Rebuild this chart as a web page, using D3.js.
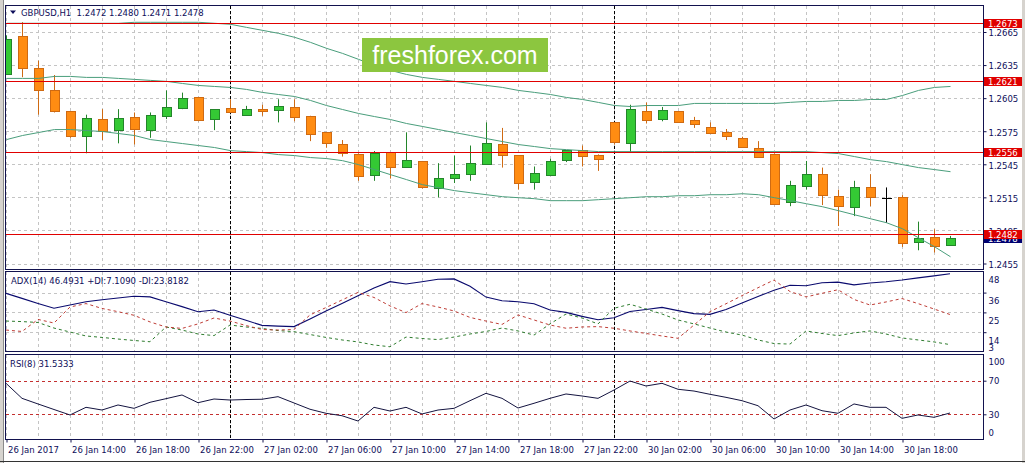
<!DOCTYPE html>
<html><head><meta charset="utf-8">
<script src="https://cdn.jsdelivr.net/npm/d3@7"></script>
<style>
html,body{margin:0;padding:0;background:#fff;overflow:hidden;}
svg{display:block;}
text{font-family:"DejaVu Sans",sans-serif;}
</style></head><body>
<svg id="c" width="1025" height="463"></svg>
<script>
// ---------- DATA ----------
const symbolTitle = "GBPUSD,H1  1.2472 1.2480 1.2471 1.2478";
const adxTitle = "ADX(14) 46.4931 +DI:7.1090 -DI:23.8182";
const rsiTitle = "RSI(8) 31.5333";

const times = [
"26 Jan 10:00","26 Jan 11:00","26 Jan 12:00","26 Jan 13:00","26 Jan 14:00","26 Jan 15:00","26 Jan 16:00","26 Jan 17:00","26 Jan 18:00","26 Jan 19:00",
"26 Jan 20:00","26 Jan 21:00","26 Jan 22:00","26 Jan 23:00","27 Jan 00:00","27 Jan 01:00","27 Jan 02:00","27 Jan 03:00","27 Jan 04:00","27 Jan 05:00",
"27 Jan 06:00","27 Jan 07:00","27 Jan 08:00","27 Jan 09:00","27 Jan 10:00","27 Jan 11:00","27 Jan 12:00","27 Jan 13:00","27 Jan 14:00","27 Jan 15:00",
"27 Jan 16:00","27 Jan 17:00","27 Jan 18:00","27 Jan 19:00","27 Jan 20:00","27 Jan 21:00","27 Jan 22:00","27 Jan 23:00","30 Jan 00:00","30 Jan 01:00",
"30 Jan 02:00","30 Jan 03:00","30 Jan 04:00","30 Jan 05:00","30 Jan 06:00","30 Jan 07:00","30 Jan 08:00","30 Jan 09:00","30 Jan 10:00","30 Jan 11:00",
"30 Jan 12:00","30 Jan 13:00","30 Jan 14:00","30 Jan 15:00","30 Jan 16:00","30 Jan 17:00","30 Jan 18:00","30 Jan 19:00","30 Jan 20:00","30 Jan 21:00"];

const open = [1.2627,1.2661,1.2632,1.2612,1.2593,1.2571,1.2586,1.2576,1.2588,1.2576,
1.2589,1.2596,1.2606,1.2586,1.2596,1.2590,1.2595,1.2594,1.2597,1.2589,
1.2574,1.2563,1.2554,1.2535,1.2556,1.2543,1.2548,1.2524,1.2532,1.2536,
1.2545,1.2563,1.2553,1.2529,1.2535,1.2549,1.2558,1.2553,1.2583,1.2564,
1.2593,1.2586,1.2593,1.2585,1.2579,1.2574,1.2569,1.2560,1.2554,1.2511,
1.2525,1.2536,1.2516,1.2506,1.2524,1.2514,1.2515,1.2474,1.2479,1.2472];
const high = [1.2662,1.2674,1.2639,1.2626,1.2593,1.2590,1.2595,1.2595,1.2592,1.2592,
1.2612,1.2610,1.2606,1.2595,1.2604,1.2598,1.2599,1.2604,1.2604,1.2589,
1.2574,1.2567,1.2555,1.2557,1.2556,1.2574,1.2548,1.2546,1.2553,1.2562,
1.2583,1.2578,1.2553,1.2543,1.2550,1.2558,1.2562,1.2554,1.2583,1.2599,
1.2601,1.2597,1.2593,1.2588,1.2583,1.2577,1.2570,1.2566,1.2555,1.2530,
1.2548,1.2542,1.2522,1.2530,1.2536,1.2524,1.2517,1.2493,1.2486,1.2480];
const low = [1.2626,1.2624,1.2590,1.2592,1.2569,1.2555,1.2567,1.2564,1.2563,1.2569,
1.2586,1.2595,1.2584,1.2576,1.2592,1.2589,1.2589,1.2583,1.2584,1.2566,
1.2560,1.2552,1.2530,1.2530,1.2532,1.2543,1.2523,1.2515,1.2528,1.2530,
1.2545,1.2542,1.2522,1.2522,1.2535,1.2547,1.2543,1.2539,1.2563,1.2556,
1.2582,1.2584,1.2583,1.2578,1.2573,1.2567,1.2561,1.2551,1.2508,1.2507,
1.2522,1.2508,1.2489,1.2498,1.2507,1.2492,1.2470,1.2467,1.2465,1.2471];
const close = [1.2659,1.2632,1.2612,1.2593,1.2570,1.2587,1.2575,1.2587,1.2577,1.2590,
1.2597,1.2605,1.2585,1.2595,1.2592,1.2595,1.2593,1.2598,1.2588,1.2573,
1.2564,1.2555,1.2534,1.2555,1.2542,1.2549,1.2524,1.2533,1.2536,1.2546,
1.2564,1.2553,1.2528,1.2537,1.2548,1.2558,1.2553,1.2549,1.2565,1.2595,
1.2585,1.2594,1.2583,1.2581,1.2574,1.2570,1.2561,1.2552,1.2509,1.2526,
1.2536,1.2517,1.2507,1.2524,1.2515,1.2514,1.2473,1.2478,1.2471,1.2478];

const bbUpper = [1.26729,1.26729,1.26729,1.26729,1.26729,1.26729,1.26729,1.26729,1.26738,1.26738,
1.26738,1.26738,1.26738,1.26729,1.26720,1.26692,1.26665,1.26638,1.26602,1.26556,
1.26502,1.26456,1.26402,1.26347,1.26302,1.26265,1.26238,1.26220,1.26202,1.26183,
1.26165,1.26147,1.26120,1.26102,1.26083,1.26056,1.26038,1.26011,1.25983,1.25974,
1.25983,1.25983,1.25983,1.26002,1.26002,1.26002,1.26002,1.26002,1.26002,1.26012,
1.26020,1.26020,1.26029,1.26029,1.26038,1.26038,1.26074,1.26120,1.26147,1.26156];
const bbMiddle = [1.26229,1.26229,1.26229,1.26247,1.26247,1.26238,1.26238,1.26229,1.26220,1.26211,
1.26202,1.26183,1.26165,1.26156,1.26147,1.26129,1.26102,1.26083,1.26065,1.26029,
1.25983,1.25947,1.25911,1.25883,1.25856,1.25820,1.25793,1.25765,1.25738,1.25711,
1.25683,1.25656,1.25629,1.25611,1.25592,1.25583,1.25574,1.25565,1.25565,1.25565,
1.25565,1.25565,1.25565,1.25565,1.25565,1.25565,1.25565,1.25565,1.25565,1.25565,
1.25565,1.25556,1.25547,1.25520,1.25492,1.25474,1.25447,1.25420,1.25402,1.25383];
const bbLower = [1.25674,1.25711,1.25738,1.25765,1.25765,1.25756,1.25747,1.25729,1.25711,1.25674,
1.25656,1.25638,1.25620,1.25602,1.25574,1.25565,1.25556,1.25538,1.25529,1.25511,
1.25502,1.25483,1.25447,1.25402,1.25356,1.25311,1.25265,1.25238,1.25211,1.25192,
1.25174,1.25156,1.25147,1.25138,1.25120,1.25120,1.25120,1.25129,1.25138,1.25147,
1.25156,1.25156,1.25165,1.25165,1.25174,1.25174,1.25183,1.25174,1.25147,1.25120,
1.25092,1.25065,1.25029,1.24992,1.24956,1.24920,1.24865,1.24783,1.24702,1.24611];

const adx = [35.6,32.8,30.0,27.3,29.1,30.9,32.0,33.0,34.0,33.6,
30.9,28.2,25.4,26.3,23.4,20.6,17.8,17.4,17.1,21.4,
25.8,30.0,34.3,38.6,42.1,40.8,42.0,43.4,43.6,39.5,
33.5,31.5,30.9,29.8,26.3,25.0,22.8,20.9,22.0,25.5,
26.6,27.8,26.0,24.3,23.9,26.6,30.2,33.8,37.3,40.1,
39.8,41.5,41.8,40.3,41.3,42.0,43.0,44.2,45.3,46.4931];
const plusDI = [20.2,19.9,19.4,16.3,14.1,11.9,11.1,10.2,9.4,8.7,
16.9,15.2,13.0,12.1,18.0,16.9,16.1,14.9,14.3,12.7,
11.1,9.7,8.6,6.9,5.9,11.3,10.5,9.9,11.3,13.0,
14.4,16.3,14.7,12.4,18.6,24.1,21.9,18.6,27.3,29.5,
26.9,24.1,20.8,18.6,16.3,14.1,12.4,9.7,7.7,7.4,
14.7,13.3,12.1,13.6,14.7,13.0,10.8,9.7,8.6,7.1090];
const minusDI = [15.2,14.4,21.1,19.1,28.0,29.9,27.2,25.4,23.4,19.7,
16.9,16.1,18.6,21.9,20.2,17.7,15.5,15.2,15.5,23.6,
27.7,31.9,36.1,33.3,28.6,24.9,29.9,28.0,25.8,22.2,
20.2,18.3,23.6,20.8,18.0,16.2,16.9,17.1,16.2,14.7,
13.3,11.9,10.6,18.0,25.4,29.8,34.3,38.7,43.0,36.6,
33.6,35.6,37.6,32.2,29.1,30.8,32.7,29.9,26.9,23.8182];
const rsi = [66.9,49.0,42.3,35.7,29.2,38.3,35.1,41.1,37.1,44.3,
48.6,53.0,43.8,48.2,47.0,47.6,47.9,51.0,43.5,36.0,
31.2,28.3,22.0,38.3,33.9,38.3,30.4,35.1,37.1,46.2,
55.0,49.0,37.5,43.1,49.0,54.2,51.8,49.0,58.9,69.6,
63.7,66.9,59.8,57.7,53.8,50.2,46.2,40.2,24.4,35.1,
41.1,34.3,31.2,42.3,38.3,38.3,25.2,29.2,26.4,31.5333];

const priceTicks = [1.2665,1.2635,1.2605,1.2575,1.2545,1.2515,1.2485,1.2455];
const levelLines = [1.2673,1.2621,1.2556,1.2482];
const currentPrice = 1.2478;
const adxTicks = [48,36,25,14,3];
const rsiTicks = [100,70,30,0];
const rsiLevels = [70,30];
const xTickTimes = ["26 Jan 10:00","26 Jan 14:00","26 Jan 18:00","26 Jan 22:00","27 Jan 02:00","27 Jan 06:00","27 Jan 10:00","27 Jan 14:00","27 Jan 18:00","27 Jan 22:00","30 Jan 02:00","30 Jan 06:00","30 Jan 10:00","30 Jan 14:00","30 Jan 18:00"];
const xTickLabels = ["26 Jan 2017","26 Jan 14:00","26 Jan 18:00","26 Jan 22:00","27 Jan 02:00","27 Jan 06:00","27 Jan 10:00","27 Jan 14:00","27 Jan 18:00","27 Jan 22:00","30 Jan 02:00","30 Jan 06:00","30 Jan 10:00","30 Jan 14:00","30 Jan 18:00"];
const daySeparators = ["27 Jan 00:00","30 Jan 00:00"];
const watermark = "freshforex.com";

// ---------- LAYOUT ----------
const svg = d3.select("#c");
const L = 6, R = 983;
const mainP = {t:6, b:269};
const adxP = {t:272, b:351};
const rsiP = {t:355, b:439};
const txt = "#0e0e5a";
const frame = "#12124e";
const fs = "8.5px";

const x = d3.scalePoint().domain(times).range([6, 950]);
const yMain = d3.scaleLinear().domain([1.2455, 1.2665]).range([263.5, 32]);
const yAdx = d3.scaleLinear().domain([3, 48]).range([352, 271]);
const yRsi = d3.scaleLinear().domain([0, 100]).range([439.5, 355.5]);

// background
svg.append("rect").attr("width",1025).attr("height",463).attr("fill","#fff");
// outer window edges
svg.append("rect").attr("x",0).attr("y",0).attr("width",3).attr("height",463).attr("fill","#d6d3ce");
svg.append("line").attr("x1",3.5).attr("x2",3.5).attr("y1",0).attr("y2",463).attr("stroke","#8a8a8a");
svg.append("rect").attr("x",1022).attr("y",0).attr("width",3).attr("height",463).attr("fill","#d6d3ce");
svg.append("line").attr("x1",0).attr("x2",1025).attr("y1",461.5).attr("y2",461.5).attr("stroke","#333");

const defs = svg.append("defs");
function clip(id, t, b){
  defs.append("clipPath").attr("id",id).append("rect")
    .attr("x",L).attr("y",t).attr("width",R-L).attr("height",b-t);
}
clip("cMain", mainP.t, mainP.b);
clip("cAdx", adxP.t, adxP.b);
clip("cRsi", rsiP.t, rsiP.b);

const gMain = svg.append("g").attr("clip-path","url(#cMain)");
const gAdx = svg.append("g").attr("clip-path","url(#cAdx)");
const gRsi = svg.append("g").attr("clip-path","url(#cRsi)");

// vertical grid (every 2 bars) in all panels
const gridTimes = times.filter((d,i)=>i%2===0);
[[gMain,mainP],[gAdx,adxP],[gRsi,rsiP]].forEach(([g,p])=>{
  g.selectAll("line.vg").data(gridTimes).join("line")
    .attr("x1",d=>Math.round(x(d))+0.5).attr("x2",d=>Math.round(x(d))+0.5)
    .attr("y1",p.t).attr("y2",p.b)
    .attr("stroke","#c4c4c4").attr("stroke-dasharray","3,3");
});
// horizontal grid
gMain.selectAll("line.hg").data(priceTicks).join("line")
  .attr("x1",L).attr("x2",R)
  .attr("y1",d=>Math.round(yMain(d))+0.5).attr("y2",d=>Math.round(yMain(d))+0.5)
  .attr("stroke","#c4c4c4").attr("stroke-dasharray","3,3");
gAdx.selectAll("line.hg").data(adxTicks.slice(1,4)).join("line")
  .attr("x1",L).attr("x2",R)
  .attr("y1",d=>Math.round(yAdx(d))+0.5).attr("y2",d=>Math.round(yAdx(d))+0.5)
  .attr("stroke","#c4c4c4").attr("stroke-dasharray","3,3");

// day separators
[[gMain,mainP],[gAdx,adxP],[gRsi,rsiP]].forEach(([g,p])=>{
  g.selectAll("line.sep").data(daySeparators).join("line")
    .attr("x1",d=>Math.round(x(d))+0.5).attr("x2",d=>Math.round(x(d))+0.5)
    .attr("y1",p.t).attr("y2",p.b)
    .attr("stroke","#000").attr("stroke-dasharray","3,2");
});

// candles
const candles = times.map((t,i)=>({t, o:open[i], h:high[i], l:low[i], c:close[i]}));
const bw = 9;
const col = d => d.c > d.o ? {f:"#34c934", s:"#23852a"} : d.c < d.o ? {f:"#ff8c12", s:"#cf6a12"} : {f:"#000", s:"#000"};
gMain.selectAll("line.wick").data(candles).join("line")
  .attr("x1",d=>Math.round(x(d.t))+0.5).attr("x2",d=>Math.round(x(d.t))+0.5)
  .attr("y1",d=>yMain(d.h)).attr("y2",d=>yMain(d.l))
  .attr("stroke",d=>col(d).s).attr("stroke-width",1);
gMain.selectAll("rect.body").data(candles.filter(d=>d.o!==d.c)).join("rect")
  .attr("x",d=>Math.round(x(d.t))-4+0.5).attr("width",bw)
  .attr("y",d=>Math.round(yMain(Math.max(d.o,d.c)))+0.5)
  .attr("height",d=>Math.max(1,Math.round(Math.abs(yMain(d.o)-yMain(d.c)))))
  .attr("fill",d=>col(d).f).attr("stroke",d=>col(d).s).attr("stroke-width",1);
gMain.selectAll("line.doji").data(candles.filter(d=>d.o===d.c)).join("line")
  .attr("x1",d=>Math.round(x(d.t))-4).attr("x2",d=>Math.round(x(d.t))+6)
  .attr("y1",d=>Math.round(yMain(d.o))+0.5).attr("y2",d=>Math.round(yMain(d.o))+0.5)
  .attr("stroke","#000");

// bollinger bands
const bbColor = "#4a9e7c";
[bbUpper,bbMiddle,bbLower].forEach(arr=>{
  gMain.append("path").datum(arr)
    .attr("fill","none").attr("stroke",bbColor).attr("stroke-width",1)
    .attr("d", d3.line().x((d,i)=>x(times[i])+0.5).y(d=>yMain(d)));
});

// level lines
gMain.selectAll("line.lvl").data(levelLines).join("line")
  .attr("x1",L).attr("x2",R)
  .attr("y1",d=>Math.round(yMain(d))+0.5).attr("y2",d=>Math.round(yMain(d))+0.5)
  .attr("stroke","#e00000").attr("stroke-width",1);

// watermark
svg.append("rect").attr("x",362).attr("y",38).attr("width",186).attr("height",34)
  .attr("fill","#8cc63f");
svg.append("text").attr("x",455).attr("y",63.5).attr("text-anchor","middle")
  .style("font-family","'Liberation Sans',Arial,sans-serif").style("font-size","25px")
  .attr("fill","#fff").text(watermark);

// ADX lines
gAdx.append("path").datum(adx).attr("fill","none").attr("stroke","#0a0a6e").attr("stroke-width",1.1)
  .attr("d", d3.line().x((d,i)=>x(times[i])).y(d=>yAdx(d)));
gAdx.append("path").datum(plusDI).attr("fill","none").attr("stroke","#2f7d2f").attr("stroke-dasharray","3,3")
  .attr("d", d3.line().x((d,i)=>x(times[i])).y(d=>yAdx(d)));
gAdx.append("path").datum(minusDI).attr("fill","none").attr("stroke","#bf3d36").attr("stroke-dasharray","3,3")
  .attr("d", d3.line().x((d,i)=>x(times[i])).y(d=>yAdx(d)));

// RSI
gRsi.selectAll("line.lv").data(rsiLevels).join("line")
  .attr("x1",L).attr("x2",R)
  .attr("y1",d=>Math.round(yRsi(d))+0.5).attr("y2",d=>Math.round(yRsi(d))+0.5)
  .attr("stroke","#c43030").attr("stroke-dasharray","3,3");
gRsi.append("path").datum(rsi).attr("fill","none").attr("stroke","#141440").attr("stroke-width",1)
  .attr("d", d3.line().x((d,i)=>x(times[i])).y(d=>yRsi(d)));

// panel frames (separate lines with small gaps between panels)
[[5.5,269.5],[271.5,351.5],[354.5,439.5]].forEach(([t,b])=>{
  svg.append("rect").attr("x",L-0.5).attr("y",t).attr("width",R-L+1).attr("height",b-t)
    .attr("fill","none").attr("stroke",frame).attr("stroke-width",1);
});

// price axis
const pAxis = svg.append("g").attr("transform",`translate(${R+0.5},0)`)
  .call(d3.axisRight(yMain).tickValues(priceTicks).tickFormat(d3.format(".4f")).tickSize(3).tickPadding(2));
pAxis.select(".domain").remove();
pAxis.selectAll("line").attr("stroke",frame);
pAxis.selectAll("text").style("font-size",fs).style("font-family","DejaVu Sans").attr("fill",txt).attr("dy","0.45em");

// ADX axis (labels hang below ticks)
const aAxis = svg.append("g").attr("transform",`translate(${R+0.5},0)`)
  .call(d3.axisRight(yAdx).tickValues(adxTicks).tickSize(3).tickPadding(2));
aAxis.select(".domain").remove();
aAxis.selectAll("line").attr("stroke",frame).attr("opacity",(d)=>(d===48||d===3)?0:1);
aAxis.selectAll("text").style("font-size",fs).style("font-family","DejaVu Sans").attr("fill",txt)
  .attr("dy",d=>d===3?"-0.2em":"1.3em");

// RSI axis
const rAxis = svg.append("g").attr("transform",`translate(${R+0.5},0)`)
  .call(d3.axisRight(yRsi).tickValues(rsiTicks).tickSize(3).tickPadding(2));
rAxis.select(".domain").remove();
rAxis.selectAll("line").attr("stroke",frame).attr("opacity",d=>(d===100||d===0)?0:1);
rAxis.selectAll("text").style("font-size",fs).style("font-family","DejaVu Sans").attr("fill",txt)
  .attr("dy",d=>d===100?"1.0em":d===0?"-0.45em":"0.35em");

// price labels (current price + levels)
function priceBox(v, fill){
  const y = Math.round(yMain(v));
  svg.append("rect").attr("x",R+1).attr("y",y-4).attr("width",38).attr("height",9).attr("fill",fill);
  svg.append("text").attr("x",R+5).attr("y",y+3.5)
    .style("font-size",fs).attr("fill","#fff").text(d3.format(".4f")(v));
}
priceBox(currentPrice, "#000070");
levelLines.forEach(v=>priceBox(v, "#e00000"));

// time axis
const tAxis = svg.append("g").attr("transform",`translate(0.5,439.5)`)
  .call(d3.axisBottom(x).tickValues(xTickTimes).tickFormat((d,i)=>xTickLabels[i]).tickSize(3).tickPadding(4));
tAxis.select(".domain").remove();
tAxis.selectAll("line").attr("stroke",frame);
tAxis.selectAll("text").style("font-size",fs).style("font-family","DejaVu Sans").attr("fill",txt)
  .attr("text-anchor","start").attr("x",1);

// titles
svg.append("path").attr("d","M10,10.5 L16,10.5 L13,14 Z").attr("fill",txt);
svg.append("text").attr("x",21).attr("y",15.5).style("font-size",fs).attr("fill",txt)
  .attr("xml:space","preserve").style("white-space","pre").text(symbolTitle);
svg.append("text").attr("x",11).attr("y",284).style("font-size",fs).attr("fill",txt).text(adxTitle);
svg.append("text").attr("x",10).attr("y",367).style("font-size",fs).attr("fill",txt).text(rsiTitle);
</script>
</body></html>
